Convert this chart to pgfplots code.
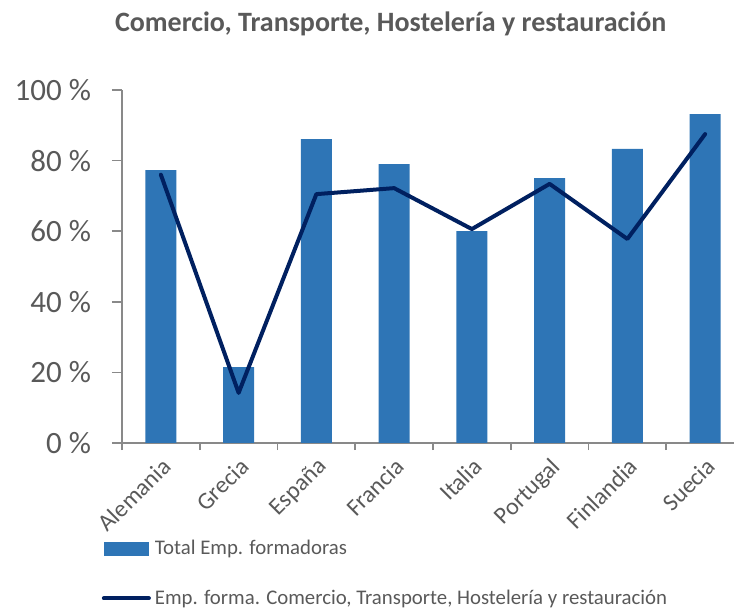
\documentclass[border=0pt]{standalone}
\usepackage{fontspec}
\setmainfont{Carlito}
\usepackage{pgfplots}
\pgfplotsset{compat=1.18}
\definecolor{barblue}{HTML}{2E75B6}
\definecolor{navy}{HTML}{002060}
\definecolor{txtgray}{HTML}{595959}
\definecolor{axgray}{HTML}{898989}

\begin{document}
\begin{tikzpicture}
\useasboundingbox (-61pt,-83.5pt) rectangle (306pt,221.5pt);
\begin{axis}[
    scale only axis,
    width=311pt, height=176.5pt,
    at={(0,0)}, anchor=south west,
    xmin=-0.5, xmax=7.5,
    ymin=0, ymax=100,
    axis x line*=bottom,
    axis y line*=left,
    axis line style={draw=axgray, line width=0.8pt},
    tick align=outside,
    % categories
    xtick={0,...,7},
    xticklabels={Alemania,Grecia,España,Francia,Italia,Portugal,Finlandia,Suecia},
    major x tick style={draw=none},
    minor xtick={-0.5,0.5,...,7.5},
    minor tick length=3.5pt,
    minor x tick style={draw=axgray, line width=0.8pt},
    ytick={0,20,...,100},
    major tick length=5pt,
    y tick style={draw=axgray, line width=0.8pt},
    /pgf/number format/assume math mode=true,
    yticklabel={\pgfmathprintnumber{\tick}\ \%},
    ticklabel style={text=txtgray},
    yticklabel style={font=\fontsize{15.5}{18}\selectfont, xshift=-7pt},
    xticklabel style={font=\fontsize{12}{14}\selectfont, rotate=45, anchor=north east, inner sep=1pt},
    title={Comercio, Transporte, Hostelería y restauración},
    title style={font=\bfseries\fontsize{14}{16}\selectfont, text=txtgray,
                 at={(0.432,1)}, anchor=base, yshift=23pt},
    legend style={at={(-0.033,-0.263)}, anchor=north west, draw=none, fill=none,
                  font=\fontsize{10.4}{12}\selectfont, text=txtgray,
                  row sep=12pt, inner sep=0pt},
    legend cell align=left,
  ]
  % Total Emp. formadoras
  \addplot[ybar, bar width=0.4, fill=barblue, draw=none,
           legend image code/.code={\fill[barblue] (0pt,-3.5pt) rectangle (22.5pt,3.5pt);}]
    coordinates {
      (0,77.3) (1,21.5) (2,86.1) (3,79.0)
      (4,60.0) (5,75.0) (6,83.3) (7,93.2)
    };
  % Emp. forma. sector
  \addplot[navy, line width=2pt, line join=round, line cap=round, mark=none,
           legend image code/.code={\draw[navy, line width=2pt, line cap=round] (0pt,0pt) -- (22.5pt,0pt);}]
    coordinates {
      (0,76.0) (1,14.2) (2,70.5) (3,72.2)
      (4,60.6) (5,73.4) (6,57.8) (7,87.5)
    };
  \legend{Total Emp. formadoras, {Emp. forma. Comercio, Transporte, Hostelería y restauración}}
\end{axis}
\end{tikzpicture}
\end{document}
